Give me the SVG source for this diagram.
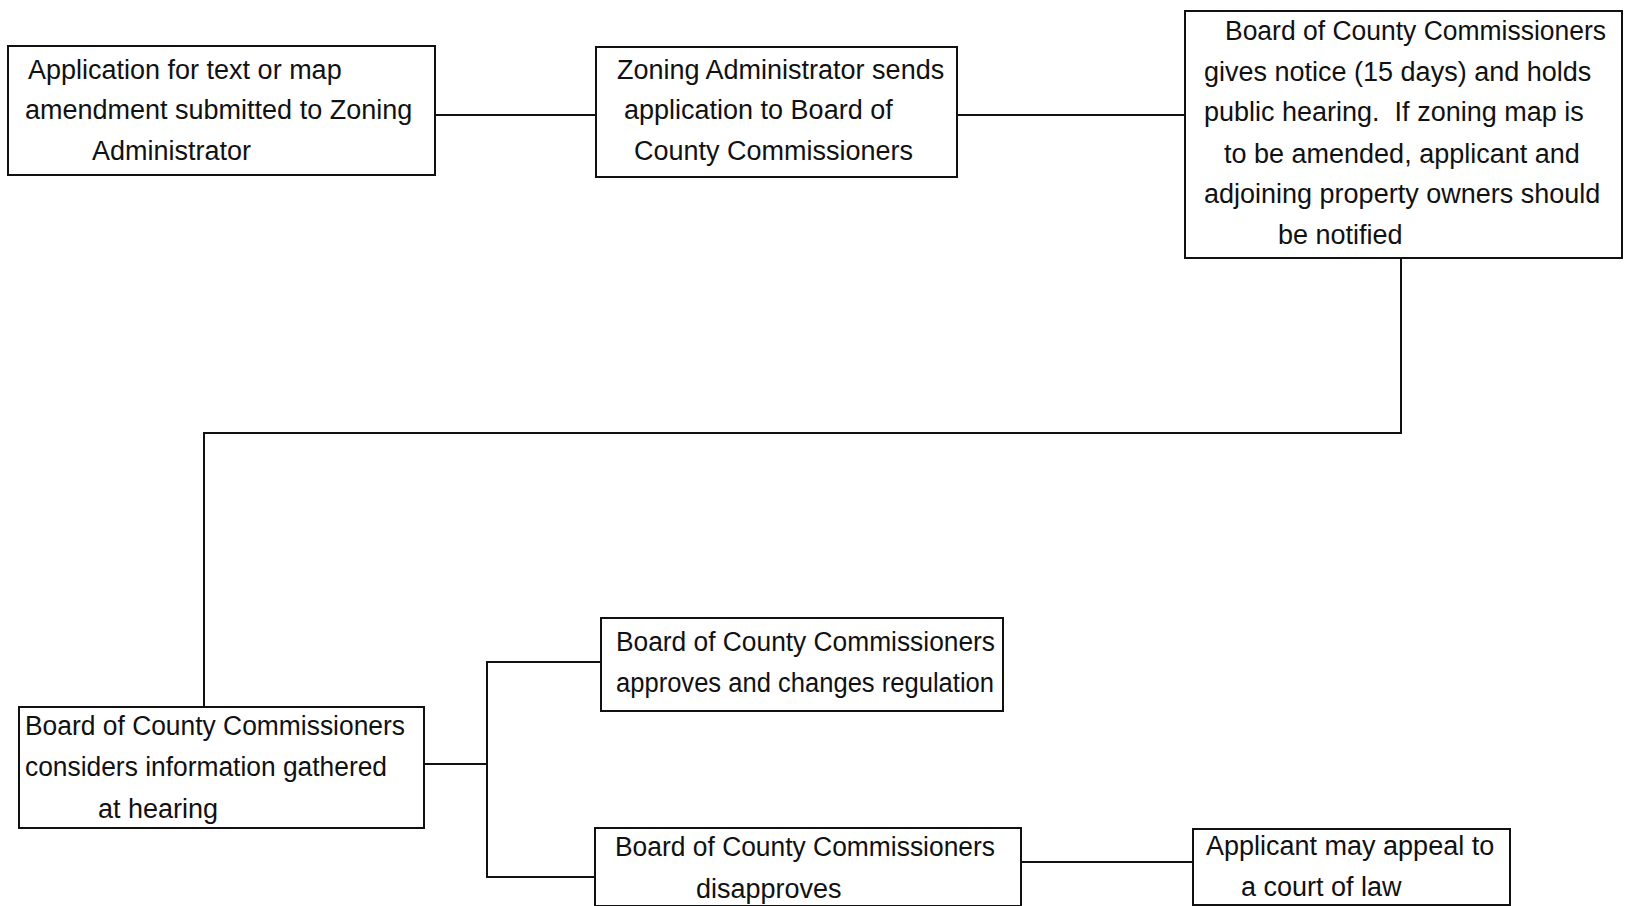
<svg xmlns="http://www.w3.org/2000/svg" width="1628" height="906" viewBox="0 0 1628 906">
<style>
.box{fill:#fff;stroke:#111;stroke-width:2}
.t{font-family:"Liberation Sans",Arial,sans-serif;font-size:27px;fill:#111;white-space:pre}
.c{fill:none;stroke:#111;stroke-width:2}
</style>
<rect width="1628" height="906" fill="#fff"/>
<g id="connectors">
<path class="c" d="M435 115H596"/>
<path class="c" d="M957 115H1185"/>
<path class="c" d="M1401 258V433H204V707"/>
<path class="c" d="M424 764H487"/>
<path class="c" d="M601 662H487V877H595"/>
<path class="c" d="M1021 862H1193"/>
</g>
<g id="n1">
<rect class="box" x="8" y="46" width="427" height="129"/>
<text class="t" x="28" y="79">Application for text or map</text>
<text class="t" x="25" y="119">amendment submitted to Zoning</text>
<text class="t" x="92" y="160">Administrator</text>
</g>
<g id="n2">
<rect class="box" x="596" y="47" width="361" height="130"/>
<text class="t" x="617" y="79">Zoning Administrator sends</text>
<text class="t" x="624" y="119">application to Board of</text>
<text class="t" x="634" y="160">County Commissioners</text>
</g>
<g id="n3">
<rect class="box" x="1185" y="11" width="437" height="247"/>
<text class="t" x="1225" y="40" textLength="381" lengthAdjust="spacingAndGlyphs">Board of County Commissioners</text>
<text class="t" x="1204" y="81">gives notice (15 days) and holds</text>
<text class="t" x="1204" y="121" xml:space="preserve">public hearing.  If zoning map is</text>
<text class="t" x="1224" y="163">to be amended, applicant and</text>
<text class="t" x="1204" y="203">adjoining property owners should</text>
<text class="t" x="1278" y="244">be notified</text>
</g>
<g id="n4">
<rect class="box" x="19" y="707" width="405" height="121"/>
<text class="t" x="25" y="735" textLength="380" lengthAdjust="spacingAndGlyphs">Board of County Commissioners</text>
<text class="t" x="25" y="776" textLength="362" lengthAdjust="spacingAndGlyphs">considers information gathered</text>
<text class="t" x="98" y="818">at hearing</text>
</g>
<g id="n5">
<rect class="box" x="601" y="618" width="402" height="93"/>
<text class="t" x="616" y="651" textLength="379" lengthAdjust="spacingAndGlyphs">Board of County Commissioners</text>
<text class="t" x="616" y="692" textLength="378" lengthAdjust="spacingAndGlyphs">approves and changes regulation</text>
</g>
<g id="n6">
<rect class="box" x="595" y="828" width="426" height="78"/>
<text class="t" x="615" y="856" textLength="380" lengthAdjust="spacingAndGlyphs">Board of County Commissioners</text>
<text class="t" x="696" y="898">disapproves</text>
</g>
<g id="n7">
<rect class="box" x="1193" y="829" width="317" height="76"/>
<text class="t" x="1206" y="855">Applicant may appeal to</text>
<text class="t" x="1241" y="896">a court of law</text>
</g>
</svg>
